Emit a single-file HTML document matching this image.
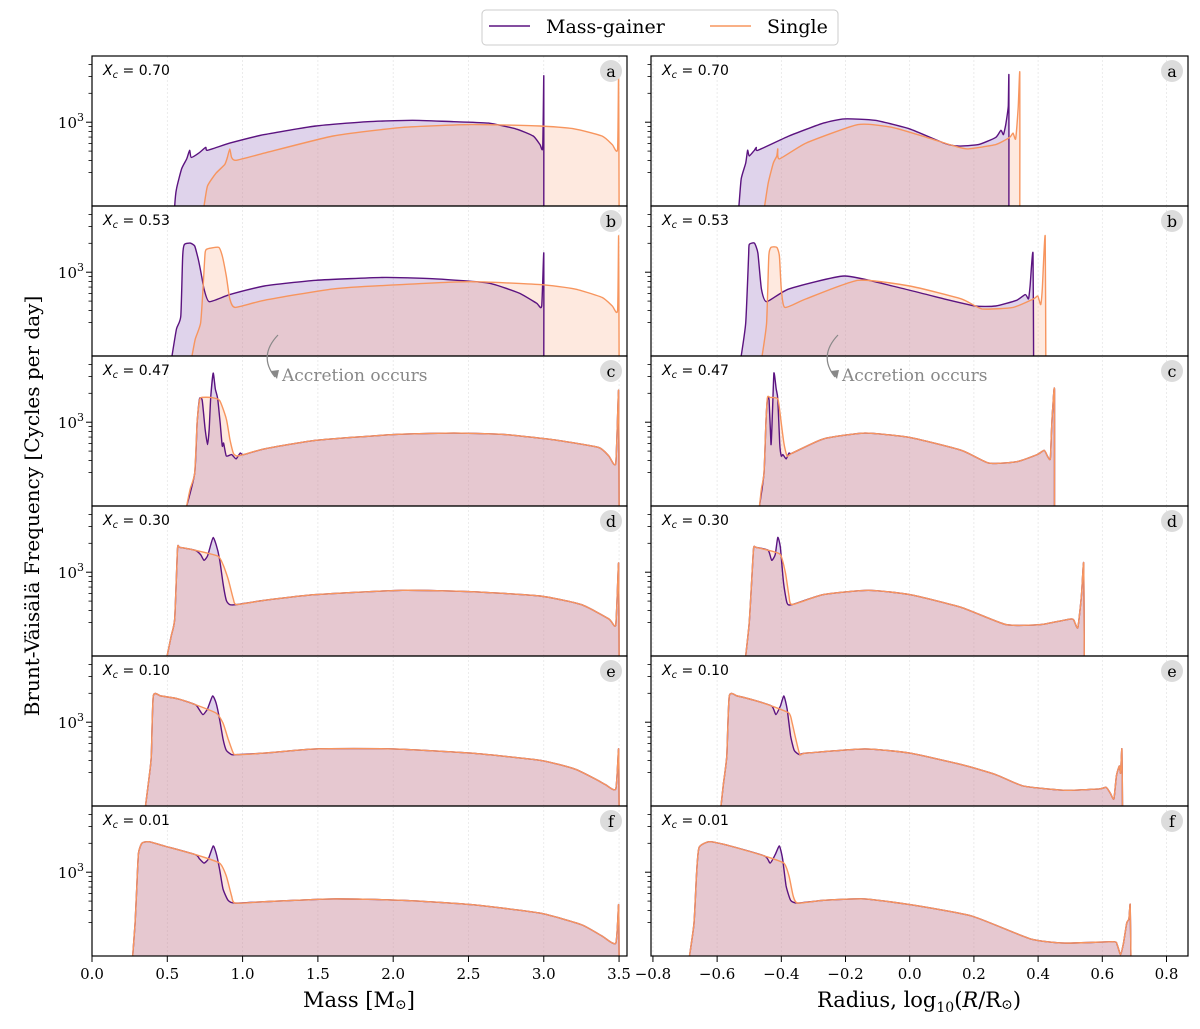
<!DOCTYPE html>
<html><head><meta charset="utf-8">
<style>
html,body{margin:0;padding:0;background:#fff;}
svg{display:block;font-family:"DejaVu Serif","Liberation Serif",serif;}
</style></head>
<body>
<svg id="chart" width="1200" height="1029" viewBox="0 0 1200 1029" xmlns="http://www.w3.org/2000/svg">
<g id="legend">
  <rect x="482" y="10" width="356" height="35" rx="4" fill="#fff" stroke="#ccc" stroke-width="1"/>
  <g>
    <line x1="489" y1="26" x2="530" y2="26" stroke="#5b1380" stroke-width="1.5"/>
    <text x="546" y="33" font-size="19">Mass-gainer</text>
  </g>
  <g>
    <line x1="710" y1="26" x2="751" y2="26" stroke="#f7955e" stroke-width="1.5"/>
    <text x="767" y="33" font-size="19">Single</text>
  </g>
</g>
<g id="panels"></g>
<text transform="translate(39,506) rotate(-90)" text-anchor="middle" font-size="20">Brunt-Väisälä Frequency [Cycles per day]</text>
<text x="359" y="1007" text-anchor="middle" font-size="21">Mass [M<tspan font-size="14" dy="2">⊙</tspan><tspan dy="-2">]</tspan></text>
<text x="919" y="1007" text-anchor="middle" font-size="21">Radius, log<tspan font-size="14" dy="5">10</tspan><tspan dy="-5">(</tspan><tspan font-style="italic">R</tspan>/R<tspan font-size="14" dy="2">⊙</tspan><tspan dy="-2">)</tspan></text>
</svg>
<script>
const xcLabels = ["0.70","0.53","0.47","0.30","0.10","0.01"];
const panelLetters = ["a","b","c","d","e","f"];
const massTicks = [0,0.5,1.0,1.5,2.0,2.5,3.0,3.5];
const massTickLabels = ["0.0","0.5","1.0","1.5","2.0","2.5","3.0","3.5"];
const radTicks = [-0.8,-0.6,-0.4,-0.2,0,0.2,0.4,0.6,0.8];
const radTickLabels = ["−0.8","−0.6","−0.4","−0.2","0.0","0.2","0.4","0.6","0.8"];
const yMinorTicks = [300,400,500,600,700,800,900,2000,3000,4000];
const yMajorTicks = [1000];

const aMassMG_x=[0.549,0.561,0.595,0.629,0.648,0.659,0.709,0.755,0.767,0.915,1.144,1.487,1.831,2.128,2.403,2.632,2.815,2.93,2.975,2.993,3.0,3.0];
const aMassMG_v=[2.40,2.52,2.66,2.73,2.79,2.74,2.77,2.81,2.79,2.84,2.90,2.96,2.99,3.00,2.99,2.98,2.94,2.89,2.83,2.81,3.31,2.40];
const aMassS_x=[0.744,0.767,0.824,0.881,0.899,0.915,0.927,0.957,1.144,1.602,2.06,2.517,2.975,3.204,3.387,3.455,3.49,3.497,3.50];
const aMassS_v=[2.40,2.54,2.63,2.69,2.74,2.80,2.74,2.72,2.77,2.89,2.95,2.97,2.96,2.94,2.89,2.83,2.80,3.35,2.40];
const aRadMG_x=[-0.532,-0.525,-0.511,-0.505,-0.500,-0.484,-0.478,-0.473,-0.376,-0.269,-0.204,-0.108,0.000,0.107,0.150,0.214,0.268,0.284,0.292,0.300,0.307,0.309,0.309];
const aRadMG_v=[2.40,2.59,2.70,2.79,2.75,2.79,2.81,2.79,2.89,2.98,3.01,3.00,2.94,2.84,2.82,2.83,2.88,2.93,2.90,2.98,3.10,3.31,2.40];
const aRadS_x=[-0.452,-0.441,-0.425,-0.414,-0.411,-0.406,-0.323,-0.161,-0.054,0.053,0.139,0.182,0.268,0.311,0.322,0.330,0.338,0.343,0.343];
const aRadS_v=[2.40,2.56,2.70,2.75,2.80,2.73,2.84,2.97,2.95,2.88,2.82,2.80,2.83,2.88,2.91,2.87,3.09,3.33,2.40];
const bMassMG_x=[0.531,0.561,0.590,0.602,0.613,0.652,0.682,0.705,0.728,0.744,0.778,0.915,1.144,1.487,1.945,2.288,2.632,2.837,2.952,2.986,3.0,3.0];
const bMassMG_v=[2.40,2.59,2.68,3.10,3.18,3.19,3.17,3.08,2.96,2.87,2.78,2.83,2.89,2.93,2.95,2.94,2.91,2.84,2.77,2.75,3.12,2.40];
const bMassS_x=[0.664,0.686,0.721,0.737,0.751,0.767,0.842,0.865,0.892,0.915,0.95,1.144,1.602,2.06,2.517,2.975,3.204,3.387,3.455,3.49,3.497,3.50];
const bMassS_v=[2.40,2.52,2.63,2.87,3.12,3.15,3.16,3.10,2.96,2.80,2.74,2.79,2.87,2.90,2.92,2.90,2.87,2.81,2.75,2.72,3.24,2.40];
const bRadMG_x=[-0.525,-0.511,-0.502,-0.500,-0.484,-0.473,-0.462,-0.446,-0.376,-0.204,-0.054,0.107,0.204,0.268,0.333,0.36,0.37,0.375,0.384,0.386];
const bRadMG_v=[2.40,2.63,3.10,3.18,3.19,3.12,2.87,2.78,2.87,2.96,2.89,2.80,2.75,2.75,2.79,2.83,2.80,2.89,3.12,2.40];
const bRadS_x=[-0.460,-0.446,-0.439,-0.432,-0.414,-0.406,-0.400,-0.389,-0.323,-0.161,0.000,0.161,0.225,0.322,0.386,0.399,0.408,0.413,0.422,0.424];
const bRadS_v=[2.40,2.63,3.10,3.16,3.16,3.10,2.87,2.74,2.80,2.93,2.89,2.80,2.73,2.74,2.80,2.82,2.76,2.87,3.24,2.40];
const cMassS_x=[0.629,0.652,0.682,0.698,0.714,0.728,0.789,0.847,0.892,0.915,0.938,0.961,1.007,1.144,1.487,2.002,2.403,2.746,3.089,3.364,3.432,3.478,3.497,3.50];
const cMassS_v=[2.40,2.52,2.63,2.98,3.14,3.16,3.16,3.14,3.01,2.87,2.77,2.75,2.76,2.80,2.86,2.90,2.91,2.90,2.86,2.81,2.75,2.70,3.21,2.40];
const cMassMG_x=[0.629,0.682,0.698,0.714,0.732,0.751,0.767,0.778,0.789,0.805,0.819,0.835,0.851,0.865,0.874,0.892,0.927,0.957,0.984,1.007,1.144];
const cMassMG_v=[2.40,2.63,2.98,3.15,3.14,2.94,2.83,2.94,3.17,3.33,3.22,3.15,2.98,2.82,2.84,2.75,2.76,2.73,2.77,2.76,2.80];
const cRadS_x=[-0.468,-0.462,-0.454,-0.448,-0.443,-0.435,-0.411,-0.403,-0.392,-0.382,-0.366,-0.269,-0.140,0.000,0.161,0.247,0.333,0.397,0.419,0.429,0.438,0.442,0.446,0.451,0.451];
const cRadS_v=[2.40,2.52,2.63,2.98,3.16,3.16,3.15,3.03,2.84,2.75,2.77,2.87,2.91,2.88,2.79,2.70,2.71,2.76,2.79,2.75,2.73,2.94,3.10,3.21,2.40];
const cRadMG_x=[-0.468,-0.454,-0.448,-0.443,-0.438,-0.432,-0.428,-0.423,-0.416,-0.411,-0.405,-0.4,-0.395,-0.385,-0.376,-0.366,-0.269];
const cRadMG_v=[2.40,2.63,2.98,3.15,3.14,2.83,3.03,3.33,3.22,3.15,2.84,2.75,2.76,2.73,2.77,2.77,2.87];
const dMassS_x=[0.499,0.526,0.549,0.568,0.584,0.686,0.835,0.87,0.904,0.938,0.961,1.144,1.487,2.06,2.517,2.975,3.249,3.432,3.478,3.497,3.50];
const dMassS_v=[2.40,2.54,2.66,3.15,3.16,3.14,3.10,3.04,2.94,2.80,2.76,2.79,2.83,2.86,2.85,2.82,2.76,2.66,2.62,3.05,2.40];
const dMassMG_x=[0.686,0.721,0.744,0.767,0.789,0.805,0.824,0.847,0.87,0.892,0.915,0.961];
const dMassMG_v=[3.14,3.11,3.07,3.10,3.18,3.23,3.18,3.08,2.91,2.79,2.76,2.76];
const dRadS_x=[-0.511,-0.500,-0.491,-0.486,-0.478,-0.441,-0.403,-0.387,-0.376,-0.366,-0.269,-0.129,0.000,0.161,0.300,0.408,0.504,0.515,0.524,0.535,0.542,0.544];
const dRadS_v=[2.40,2.63,2.98,3.16,3.16,3.14,3.11,2.98,2.82,2.76,2.83,2.86,2.83,2.74,2.62,2.62,2.66,2.63,2.60,2.82,3.05,2.40];
const dRadMG_x=[-0.441,-0.430,-0.419,-0.411,-0.403,-0.393,-0.382,-0.366];
const dRadMG_v=[3.14,3.07,3.11,3.23,3.16,2.91,2.77,2.76];
const eMassS_x=[0.355,0.378,0.394,0.407,0.458,0.572,0.686,0.824,0.870,0.904,0.938,0.961,1.144,1.487,2.002,2.517,2.975,3.204,3.341,3.41,3.478,3.497,3.50];
const eMassS_v=[2.40,2.59,2.75,3.17,3.17,3.15,3.11,3.05,2.98,2.87,2.77,2.76,2.77,2.80,2.80,2.77,2.72,2.66,2.59,2.55,2.52,2.80,2.40];
const eMassMG_x=[0.686,0.709,0.737,0.767,0.801,0.824,0.847,0.870,0.892,0.927,0.961];
const eMassMG_v=[3.11,3.08,3.04,3.08,3.17,3.12,3.01,2.87,2.79,2.76,2.76];
const eRadS_x=[-0.588,-0.580,-0.570,-0.562,-0.537,-0.484,-0.430,-0.376,-0.366,-0.355,-0.342,-0.323,-0.140,0.000,0.161,0.268,0.354,0.483,0.590,0.612,0.625,0.636,0.644,0.653,0.657,0.661,0.663];
const eRadS_v=[2.40,2.56,2.75,3.17,3.17,3.14,3.10,3.05,2.98,2.87,2.76,2.77,2.80,2.77,2.69,2.62,2.54,2.51,2.52,2.53,2.49,2.45,2.61,2.68,2.63,2.80,2.40];
const eRadMG_x=[-0.430,-0.417,-0.403,-0.392,-0.382,-0.371,-0.360,-0.344,-0.323];
const eRadMG_v=[3.10,3.04,3.10,3.17,3.08,2.89,2.79,2.76,2.77];
const fMassS_x=[0.270,0.286,0.297,0.309,0.332,0.378,0.481,0.686,0.847,0.892,0.927,0.950,1.144,1.602,2.06,2.517,2.975,3.249,3.387,3.478,3.497,3.50];
const fMassS_v=[2.40,2.63,2.87,3.12,3.19,3.20,3.17,3.11,3.05,2.96,2.82,2.77,2.78,2.80,2.79,2.76,2.70,2.62,2.54,2.49,2.76,2.40];
const fMassMG_x=[0.686,0.714,0.744,0.773,0.805,0.824,0.847,0.870,0.904,0.950];
const fMassMG_v=[3.11,3.08,3.05,3.08,3.17,3.12,3.01,2.87,2.79,2.77];
const fRadS_x=[-0.686,-0.672,-0.664,-0.656,-0.623,-0.559,-0.452,-0.392,-0.376,-0.363,-0.349,-0.269,-0.140,0.000,0.193,0.376,0.483,0.633,0.646,0.657,0.666,0.676,0.683,0.687,0.689];
const fRadS_v=[2.40,2.63,2.98,3.16,3.20,3.17,3.10,3.05,2.96,2.82,2.77,2.79,2.80,2.76,2.68,2.52,2.49,2.50,2.48,2.41,2.49,2.63,2.66,2.76,2.40];
const fRadMG_x=[-0.452,-0.435,-0.419,-0.406,-0.396,-0.385,-0.371,-0.349];
const fRadMG_v=[3.10,3.05,3.11,3.17,3.08,2.89,2.79,2.77];

const NS="http://www.w3.org/2000/svg";
const root=document.getElementById('panels');
const PT=56, PH=150;
const cols=[{x0:92,x1:627,d0:0,d1:3.5527,ticks:massTicks,labels:massTickLabels,name:'mass'},
            {x0:651,x1:1188,d0:-0.806,d1:0.867,ticks:radTicks,labels:radTickLabels,name:'radius'}];
function xScale(c,v){return c.x0+(v-c.d0)/(c.d1-c.d0)*(c.x1-c.x0);}
function yScale(row,v){return PT+row*PH+(3.45-v)/0.007;}
function tickV(t){return (Math.log10(t)+1.444)/1.488;}
function mk(tag,attrs,parent){const e=document.createElementNS(NS,tag);for(const k in attrs)e.setAttribute(k,attrs[k]);(parent||root).appendChild(e);return e;}
function merge(sx,sv,mx,mv){
  if(mx[0]>sx[0]){
    const lo=mx[0],hi=mx[mx.length-1];const X=[],V=[];
    for(let i=0;i<sx.length;i++){if(sx[i]<lo){X.push(sx[i]);V.push(sv[i]);}}
    for(let i=0;i<mx.length;i++){X.push(mx[i]);V.push(mv[i]);}
    for(let i=0;i<sx.length;i++){if(sx[i]>hi){X.push(sx[i]);V.push(sv[i]);}}
    return [X,V];
  }
  const hi=mx[mx.length-1];const X=mx.slice(),V=mv.slice();
  for(let i=0;i<sx.length;i++){if(sx[i]>hi){X.push(sx[i]);V.push(sv[i]);}}
  return [X,V];
}
function smoothPath(P){
  const k=0.55;let d='';
  for(let i=0;i<P.length-1;i++){
    const p0=P[Math.max(0,i-1)],p1=P[i],p2=P[i+1],p3=P[Math.min(P.length-1,i+2)];
    const c1x=p1[0]+(p2[0]-p0[0])/6*k, c1y=p1[1]+(p2[1]-p0[1])/6*k;
    const c2x=p2[0]-(p3[0]-p1[0])/6*k, c2y=p2[1]-(p3[1]-p1[1])/6*k;
    d+=` C${c1x.toFixed(1)},${c1y.toFixed(1)} ${c2x.toFixed(1)},${c2y.toFixed(1)} ${p2[0].toFixed(1)},${p2[1].toFixed(1)}`;
  }
  return d;
}
const series={
 mass:[[aMassMG_x,aMassMG_v,aMassS_x,aMassS_v,false],[bMassMG_x,bMassMG_v,bMassS_x,bMassS_v,false],[cMassMG_x,cMassMG_v,cMassS_x,cMassS_v,true],[dMassMG_x,dMassMG_v,dMassS_x,dMassS_v,true],[eMassMG_x,eMassMG_v,eMassS_x,eMassS_v,true],[fMassMG_x,fMassMG_v,fMassS_x,fMassS_v,true]],
 radius:[[aRadMG_x,aRadMG_v,aRadS_x,aRadS_v,false],[bRadMG_x,bRadMG_v,bRadS_x,bRadS_v,false],[cRadMG_x,cRadMG_v,cRadS_x,cRadS_v,true],[dRadMG_x,dRadMG_v,dRadS_x,dRadS_v,true],[eRadMG_x,eRadMG_v,eRadS_x,eRadS_v,true],[fRadMG_x,fRadMG_v,fRadS_x,fRadS_v,true]]
};
const defs=mk('defs',{});
cols.forEach((c,ci)=>{
  for(let r=0;r<6;r++){
    const top=PT+r*PH;
    const g=mk('g',{});
    
    
    const cp=mk('clipPath',{id:'cp'+ci+r},defs);
    mk('rect',{x:c.x0,y:top,width:c.x1-c.x0,height:PH},cp);
    c.ticks.forEach(t=>{const x=xScale(c,t);if(x>c.x0+1&&x<c.x1-1){
      const gl=mk('line',{x1:x,x2:x,y1:top,y2:top+PH,stroke:'#e3e3e3','stroke-width':0.7,'stroke-dasharray':'2,2'},g);
      
      }});
    const s=series[c.name][r];
    let mgX=s[0],mgV=s[1];
    if(s[4]){const m=merge(s[2],s[3],s[0],s[1]);mgX=m[0];mgV=m[1];}
    const toP=(X,V)=>X.map((x,i)=>[xScale(c,x),yScale(r,V[i])]);
    const lineD=(X,V)=>{const P=toP(X,V);return `M${P[0][0].toFixed(1)},${P[0][1].toFixed(1)}`+smoothPath(P);};
    const fillD=(X,V)=>{const P=toP(X,V);return `M${P[0][0].toFixed(1)},${top+PH+2} L${P[0][0].toFixed(1)},${P[0][1].toFixed(1)}`+smoothPath(P)+` L${P[P.length-1][0].toFixed(1)},${top+PH+2} Z`;};
    const cg=mk('g',{'clip-path':'url(#cp'+ci+r+')'},g);
    const f1=mk('path',{d:fillD(mgX,mgV),fill:'rgb(150,110,190)','fill-opacity':0.3},cg);
    
    
    const f2=mk('path',{d:fillD(s[2],s[3]),fill:'rgb(250,168,128)','fill-opacity':0.25},cg);
    
    
    const l1=mk('path',{d:lineD(mgX,mgV),fill:'none',stroke:'#5b1380','stroke-width':1.4,'stroke-linejoin':'round'},cg);
    
    
    const l2=mk('path',{d:lineD(s[2],s[3]),fill:'none',stroke:'#f7955e','stroke-width':1.4,'stroke-linejoin':'round'},cg);
    
    
    yMinorTicks.forEach(t=>{const y=yScale(r,tickV(t));if(y>top&&y<top+PH){mk('line',{x1:c.x0-3.5,x2:c.x0,y1:y,y2:y,stroke:'#000','stroke-width':0.8},g);}});
    yMajorTicks.forEach(t=>{const y=yScale(r,tickV(t));
      mk('line',{x1:c.x0-6,x2:c.x0,y1:y,y2:y,stroke:'#000','stroke-width':1},g);
      if(ci===0){const tl=mk('text',{x:c.x0-8,y:y+6,'text-anchor':'end','font-size':15},g);
        
        
        tl.innerHTML='10<tspan font-size="11" dy="-7">3</tspan>';}});
    const fr=mk('rect',{x:c.x0,y:top,width:c.x1-c.x0,height:PH,fill:'none',stroke:'#000','stroke-width':1.2},g);
    
    
    const xl=mk('text',{x:c.x0+11,y:top+19,'font-size':14,'font-family':'DejaVu Sans, sans-serif'},g);
    
    
    xl.innerHTML='<tspan font-style="italic">X</tspan><tspan font-style="italic" font-size="10" dy="3">c</tspan><tspan dy="-3"> =  '+xcLabels[r]+'</tspan>';
    const bc=mk('circle',{cx:c.x1-16,cy:top+15,r:11,fill:'#dcdcdc'},g);
    
    
    const bt=mk('text',{x:c.x1-16,y:top+21,'text-anchor':'middle','font-size':16},g);
    
    
    bt.textContent=panelLetters[r];
  }
  const by=PT+6*PH;
  c.ticks.forEach((t,i)=>{const x=xScale(c,t);
    mk('line',{x1:x,x2:x,y1:by,y2:by+6,stroke:'#000','stroke-width':1});
    const tl=mk('text',{x:x,y:by+23,'text-anchor':'middle','font-size':15});
    
    
    tl.textContent=c.labels[i];});
  const ox=ci===0?0:560;
  const ar=mk('path',{d:`M${278+ox},335 Q${258+ox},356 ${275+ox},377`,fill:'none',stroke:'#888','stroke-width':1.2});
  
  
  mk('path',{d:`M${271+ox},371 L${277+ox},379 L${279+ox},370 Z`,fill:'#888'});
  const at=mk('text',{x:282+ox,y:381,'font-size':17,fill:'#888'});
  
  
  at.textContent='Accretion occurs';
});
</script>
</body></html>
